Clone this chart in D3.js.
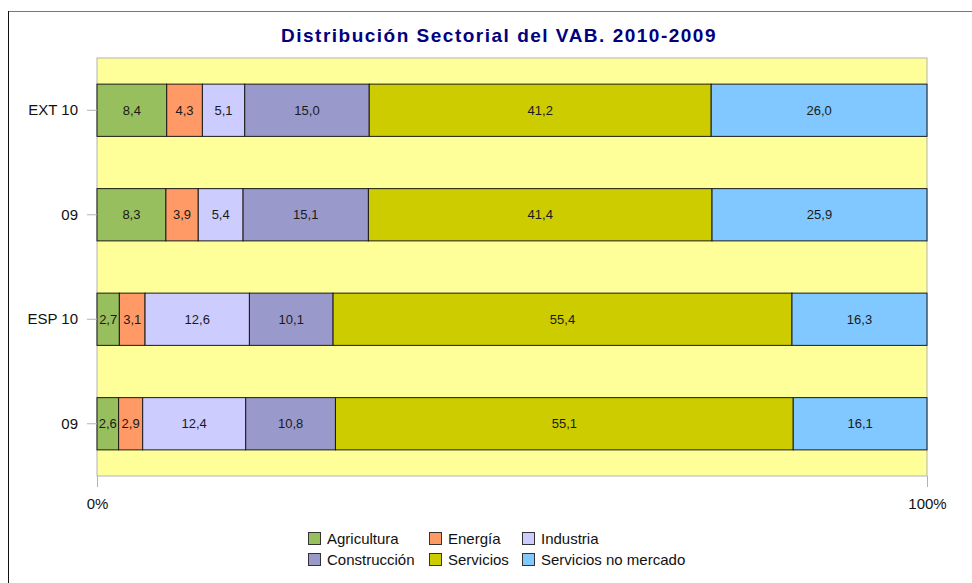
<!DOCTYPE html>
<html>
<head>
<meta charset="utf-8">
<script src="https://cdn.jsdelivr.net/npm/d3@7"></script>
<style>
  body { margin: 0; background: #fff; }
  text { font-family: "Liberation Sans", Arial, sans-serif; }
</style>
</head>
<body>
<div id="container"></div>
<script>
const width = 972, height = 583;

// data
const categories = ["EXT 10", "09 ", "ESP 10", "09"];
const catLabels = ["EXT 10", "09", "ESP 10", "09"];
const sectors = ["Agricultura", "Energía", "Industria", "Construcción", "Servicios", "Servicios no mercado"];
const colors = ["#97bf5d", "#ff9966", "#ccccff", "#9999cc", "#cccc00", "#80c8ff"];
const agricultura = [8.4, 8.3, 2.7, 2.6];
const energia = [4.3, 3.9, 3.1, 2.9];
const industria = [5.1, 5.4, 12.6, 12.4];
const construccion = [15.0, 15.1, 10.1, 10.8];
const servicios = [41.2, 41.4, 55.4, 55.1];
const noMercado = [26.0, 25.9, 16.3, 16.1];
const xTicks = [0, 1];

const series = [agricultura, energia, industria, construccion, servicios, noMercado];

const svg = d3.create("svg")
    .attr("width", width)
    .attr("height", height)
    .attr("xmlns", "http://www.w3.org/2000/svg");

// outer frame
svg.append("rect").attr("x", 8.5).attr("y", 11.5).attr("width", 980).attr("height", 600)
    .attr("fill", "#fff").attr("stroke", "#777");
svg.append("line").attr("x1", 8.5).attr("x2", 8.5).attr("y1", 11).attr("y2", height)
    .attr("stroke", "#111");

const plot = {left: 97, right: 927, top: 58, bottom: 476};

const x = d3.scaleLinear().domain([0, 1]).range([plot.left, plot.right]);
const y = d3.scaleBand().domain(categories).range([plot.top, plot.bottom]).paddingInner(0.5).paddingOuter(0.25);

svg.append("rect")
    .attr("x", plot.left).attr("y", plot.top)
    .attr("width", plot.right - plot.left).attr("height", plot.bottom - plot.top)
    .attr("fill", "#ffff99").attr("stroke", "#b3b3b3");

// title
svg.append("text")
    .attr("x", 499).attr("y", 42)
    .attr("text-anchor", "middle")
    .attr("font-size", 19).attr("font-weight", "bold")
    .attr("letter-spacing", 1.5)
    .attr("fill", "#000080")
    .text("Distribución Sectorial del VAB. 2010-2009");

// stacked bars, normalised to 100%
const rows = categories.map((c, i) => {
    const vals = series.map(s => s[i]);
    const total = d3.sum(vals);
    let acc = 0;
    return vals.map((v, k) => {
        const seg = {cat: c, k: k, v: v, x0: acc / total, x1: (acc + v) / total};
        acc += v;
        return seg;
    });
}).flat();

const bars = svg.append("g");
bars.selectAll("rect")
    .data(rows)
    .join("rect")
    .attr("x", d => x(d.x0))
    .attr("y", d => y(d.cat))
    .attr("width", d => x(d.x1) - x(d.x0))
    .attr("height", y.bandwidth())
    .attr("fill", d => colors[d.k])
    .attr("stroke", "#1a1a1a")
    .attr("stroke-width", 1);

bars.selectAll("text")
    .data(rows)
    .join("text")
    .attr("x", d => (x(d.x0) + x(d.x1)) / 2)
    .attr("y", d => y(d.cat) + y.bandwidth() / 2)
    .attr("dy", "0.35em")
    .attr("text-anchor", "middle")
    .attr("font-size", 13)
    .attr("fill", "#1a1a1a")
    .text(d => d.v.toFixed(1).replace(".", ","));

// y axis
const yAxis = d3.axisLeft(y).tickSize(10).tickPadding(9).tickFormat((d, i) => catLabels[i]);
const gy = svg.append("g").attr("transform", `translate(${plot.left},0)`).call(yAxis);
gy.select(".domain").remove();
gy.selectAll(".tick line").attr("stroke", "#b3b3b3");
gy.selectAll(".tick text").attr("font-size", 15).attr("fill", "#111")
    .attr("font-family", "Liberation Sans, Arial, sans-serif");

// x axis
const xAxis = d3.axisBottom(x).tickValues(xTicks).tickSize(11).tickPadding(11).tickFormat(d3.format(".0%"));
const gx = svg.append("g").attr("transform", `translate(0,${plot.bottom})`).call(xAxis);
gx.select(".domain").remove();
gx.selectAll(".tick line").attr("stroke", "#b3b3b3");
gx.selectAll(".tick text").attr("font-size", 15).attr("fill", "#111")
    .attr("font-family", "Liberation Sans, Arial, sans-serif");

// legend
const legCols = [308, 429, 522];
const legRows = [539, 560];
const legend = svg.append("g");
sectors.forEach((s, i) => {
    const cx = legCols[i % 3], cy = legRows[Math.floor(i / 3)];
    legend.append("rect")
        .attr("x", cx + 0.5).attr("y", cy - 6.5).attr("width", 12).attr("height", 12)
        .attr("fill", colors[i]).attr("stroke", "#333");
    legend.append("text")
        .attr("x", cx + 19).attr("y", cy).attr("dy", "0.35em")
        .attr("font-size", 15).attr("fill", "#111")
        .text(s);
});

document.getElementById("container").append(svg.node());
</script>
</body>
</html>
